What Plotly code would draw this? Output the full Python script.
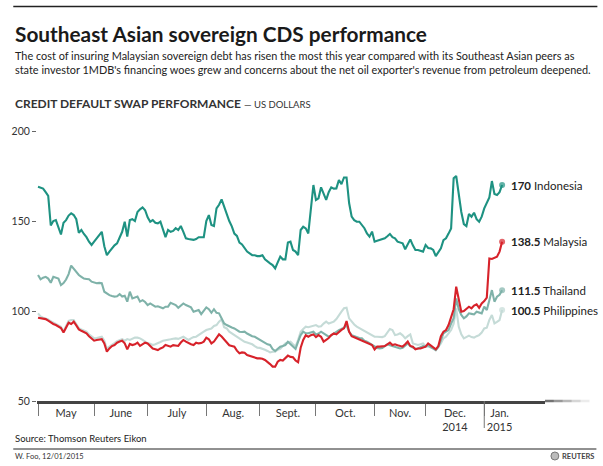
import pandas as pd
import plotly.graph_objects as go

# ---------------- data ----------------
dates = pd.bdate_range("2014-05-01", "2015-01-12")

indonesia = [
    169, 168.5, 168, 166, 164, 147.5, 150, 150.5, 147, 142.5,
    149, 150.5, 153, 154.3, 153.3, 151, 143.5, 145, 142.8, 141,
    138.5, 136.7, 138.5, 140.5, 142.5, 144, 136, 131, 133, 135,
    136.5, 137.6, 141, 144, 149.6, 141.3, 150.5, 151, 150, 155,
    156.5, 157.6, 156, 152, 149.6, 150.5, 149, 148.7, 149.6, 145,
    141, 145, 144, 144.5, 146, 145, 147.2, 144, 140.4, 140,
    139.8, 139.5, 140, 141, 141, 141, 150, 153.3, 147.8, 147.2,
    157, 159, 162, 158, 153, 150, 147, 143, 141.7, 138,
    137, 135, 133, 132, 131, 131, 130.5, 130.5, 131, 128.7,
    127.4, 126.5, 125.5, 123.7, 127, 130.2, 128.7, 128.7, 138, 138.5,
    133.9, 133, 131, 145, 146.8, 145.9, 143.1, 155, 170, 161.7,
    162.6, 168.7, 165, 161.7, 166, 168.7, 168, 168.1, 172.8, 170.5,
    174.2, 174.2, 160, 152.4, 150.5, 149.6, 149.6, 148, 146, 143.1,
    141.3, 144.1, 138.5, 139, 139.4, 140, 140.4, 141.5, 142.8, 141,
    140.4, 138.5, 138, 137.6, 134.3, 137, 139.8, 136.5, 133.9, 133.9,
    133.5, 133, 136.7, 135, 134.8, 133.9, 130.5, 132.5, 134.8, 139.4,
    140.4, 143, 145.9, 173.7, 175, 165, 155, 148.3, 147.2, 153.9,
    152.4, 154.6, 151, 149.6, 152.4, 157, 160, 163.1, 172.2, 165,
    164.4, 166, 170,
]

malaysia = [
    96.3, 96, 95.9, 95.5, 94.6, 93.5, 92.8, 92.2, 91.5, 90.5,
    88, 90.5, 93.5, 92.8, 94.1, 92, 89.8, 89, 88.5, 87.6,
    86, 84.8, 83.5, 83.9, 84.3, 84.3, 82, 77.4, 79.2, 80.5,
    81.1, 82.4, 83, 83.5, 82, 78.7, 81.7, 81.1, 81.5, 82.4,
    80.6, 81.5, 82.4, 82, 80.5, 79.2, 78.8, 78.3, 79.2, 79.8,
    81.1, 80.5, 80.2, 81, 80.6, 80.6, 82.5, 83.9, 83, 82,
    81.5, 81.1, 82.4, 82, 82.2, 83, 85.2, 84.3, 82, 83,
    84.8, 87, 85.8, 84, 82.4, 81, 80.6, 80.2, 78, 76.5,
    77, 76.8, 75.5, 75, 74.3, 74, 73.7, 73.7, 73.5, 72.8,
    71.8, 70.5, 69.1, 69.1, 71.8, 72.8, 72.5, 74.1, 75.2, 74.5,
    74.3, 72.5, 71.5, 79.6, 83.9, 86.5, 85.7, 86.6, 87, 85.5,
    86.6, 85.7, 83, 84, 85, 86.6, 87.6, 87, 88.5, 89.5,
    90.4, 94.4, 88.5, 86, 85.4, 84.8, 84.3, 83.5, 82.9, 82.4,
    82, 81.1, 78.6, 80.2, 80.2, 80.2, 80.5, 81.5, 82.4, 81.1,
    81.5, 81, 80.5, 80.2, 81.5, 83, 80.6, 80.2, 78.7, 79.2,
    79.2, 79.5, 80.2, 82, 81, 80, 78.7, 80.5, 86, 88.5,
    89.4, 92.2, 97, 101, 113.5, 107, 99.6, 100, 101.1, 102.4,
    101.5, 103, 103.7, 101.8, 104.2, 105.5, 107.4, 129.2, 128.9, 129.5,
    130.2, 133, 138.5,
]

thailand = [
    120, 117.6, 118.5, 119, 118, 115.7, 119, 118.5, 118, 114.4,
    115.5, 117.5, 120.5, 125.2, 123.5, 122, 120, 119, 118, 117.8,
    117.6, 116.3, 116, 115.4, 115.6, 115.4, 110.7, 109.5, 108.8, 108.3,
    108, 108.2, 109.4, 108, 108.5, 105.2, 110.7, 107, 107.5, 108,
    105.2, 106, 105, 103.3, 104.2, 103.5, 102.4, 102.6, 102, 101.5,
    102.4, 102.4, 104.6, 103.8, 103.3, 101.8, 103, 104.2, 103.3, 102.5,
    102, 99.6, 100, 100.5, 98.3, 100, 102, 101, 99, 101,
    99, 98.7, 95.9, 93.1, 92.2, 91.3, 90.8, 90.3, 89.4, 88.5,
    88.3, 88.5, 87.5, 86.6, 86, 85.7, 84.8, 83.9, 83, 82,
    81.5, 81.1, 78.9, 77.8, 79, 80.2, 80.6, 81.1, 82.9, 81.5,
    80, 78.9, 83, 86.6, 88.5, 87.6, 87.6, 88, 88.5, 87,
    87.5, 88.5, 87.6, 86.5, 85.7, 86.5, 87.6, 88.5, 89.4, 90,
    90.7, 92.2, 88.5, 86.6, 86, 85.7, 85, 84.8, 83.5, 82.9,
    82, 81, 80.2, 79.5, 79.2, 79.5, 80.5, 81.5, 81, 80.5,
    80, 79.5, 79.2, 79.5, 80.5, 82, 80.5, 79.5, 79, 79.2,
    80, 80.5, 80.2, 81, 80, 79, 78.3, 80, 84, 87.6,
    88.5, 89.4, 93, 96, 107, 101, 97.8, 95.9, 97, 98.7,
    98.4, 98.1, 99.6, 99, 98.7, 102.4, 100.5, 106, 111.6, 105.2,
    107.9, 109, 111.5,
]

philippines = [
    98.7, 97, 96.3, 96, 95.3, 94.3, 93.5, 93, 92.2, 91.3,
    88.8, 91.3, 94.5, 95, 95, 92.8, 90.5, 89.8, 89.3, 88.5,
    87, 85.7, 84.8, 85, 85.5, 85.7, 83.5, 79, 80.3, 81.5,
    82.2, 83.3, 84, 84.3, 83.5, 84.4, 83.9, 84.5, 85.2, 85.2,
    84.8, 83.9, 83, 82, 81.8, 81.1, 81.5, 82, 82.8, 83.5,
    83.9, 83.9, 84.3, 84.6, 84.8, 84.5, 85, 85.7, 84.8, 83.9,
    84.8, 85.5, 85.7, 86.5, 87.6, 88.5, 89.4, 89.8, 90.3, 91.7,
    92.2, 94.1, 95.4, 91, 90.3, 88.5, 87.5, 86.6, 85.5, 84.8,
    84, 82.9, 82.5, 82, 81.5, 80.5, 79.6, 79.5, 79.2, 78.5,
    77.8, 77, 77.4, 77.4, 78.5, 79, 80.5, 82, 82.5, 82.9,
    81.5, 80.2, 84, 88.5, 90, 91.3, 91, 91.3, 91.5, 92.2,
    91.3, 91.5, 93, 94.1, 93, 93.5, 94.1, 95.5, 97.8, 99.6,
    101.5, 101.8, 95.9, 94, 92.5, 91.3, 90.5, 90, 89.2, 88.5,
    87.5, 86.5, 85.7, 85.7, 85.7, 85.5, 86, 88, 90, 89.4,
    86.6, 87, 87.6, 86.5, 84.8, 86, 87, 82, 81.5, 81.1,
    81.5, 82, 80.5, 80.2, 79.8, 79.5, 78.3, 80, 82, 84.8,
    85.7, 87.6, 89.4, 93, 101.5, 91.3, 87, 84.8, 85.5, 86.3,
    85.5, 85.2, 86, 86.6, 88, 90.3, 90.7, 95, 97.8, 93.1,
    94, 95, 100.5,
]

month_labels = ["May", "June", "July", "Aug.", "Sept.", "Oct.", "Nov.",
                "Dec.<br>2014", "Jan.<br>2015"]
y_ticks = [50, 100, 150, 200]

# ---------------- figure ----------------
W, H = 603, 466
L, R, T, B = 31, 545, 131, 401
PW, PH = R - L, B - T


def px(x):
    return (x - L) / PW


def py(y):
    return (B - y) / PH


idx = list(range(len(dates)))
month_start = [i for i in idx if i == 0 or dates[i].month != dates[i - 1].month]
bounds = month_start + [idx[-1] + 5]
mids = [(bounds[k] + bounds[k + 1]) / 2 for k in range(len(month_start))]

series = [
    ("Philippines", philippines, "#c5dbd7"),
    ("Thailand", thailand, "#7fb2a9"),
    ("Indonesia", indonesia, "#1e9282"),
    ("Malaysia", malaysia, "#d7222a"),
]

fig = go.Figure()
for name, vals, col in series:
    sizes = [0] * (len(vals) - 1) + [6]
    fig.add_trace(go.Scatter(
        x=idx, y=vals, mode="lines+markers", name=name,
        line=dict(color=col, width=2.1),
        marker=dict(size=sizes, color=col, line=dict(width=0)),
        hoverinfo="skip", cliponaxis=False,
    ))

annotations = []
for name, vals, col in series:
    annotations.append(dict(
        x=idx[-1], y=vals[-1], xref="x", yref="y",
        text=f"<b>{vals[-1]:g}</b> {name}", showarrow=False,
        xanchor="left", yanchor="middle", xshift=7,
        font=dict(size=11.5, color="#222", family="Lato"),
    ))

# texts
annotations += [
    dict(x=px(7), y=py(33), xref="paper", yref="paper", xanchor="left", yanchor="middle",
         text="<b>Southeast Asian sovereign CDS performance</b>", showarrow=False,
         font=dict(size=20.8, color="#1a1a1a", family="Lato")),
    dict(x=px(7), y=py(62), xref="paper", yref="paper", xanchor="left", yanchor="middle",
         align="left",
         text="The cost of insuring Malaysian sovereign debt has risen the most this year compared with its Southeast Asian peers as<br>"
              "state investor 1MDB's financing woes grew and concerns about the net oil exporter's revenue from petroleum deepened.",
         showarrow=False, font=dict(size=10.9, color="#222", family="Lato")),
    dict(x=px(7), y=py(104), xref="paper", yref="paper", xanchor="left", yanchor="middle",
         text="<b>CREDIT DEFAULT SWAP PERFORMANCE</b> <span style='font-size:9.5px'>— US DOLLARS</span>",
         showarrow=False, font=dict(size=12, color="#333", family="Lato")),
    dict(x=px(7), y=py(438), xref="paper", yref="paper", xanchor="left", yanchor="middle",
         text="Source: Thomson Reuters Eikon", showarrow=False,
         font=dict(size=9.5, color="#222", family="Lato")),
    dict(x=px(7), y=py(456), xref="paper", yref="paper", xanchor="left", yanchor="middle",
         text="W. Foo, 12/01/2015", showarrow=False,
         font=dict(size=7.5, color="#333", family="Lato")),
    dict(x=px(597), y=py(456), xref="paper", yref="paper", xanchor="right", yanchor="middle",
         text="<b>REUTERS</b>", showarrow=False,
         font=dict(size=7.5, color="#444", family="Lato")),
]

shapes = [
    dict(type="line", xref="paper", yref="paper", x0=px(7), x1=px(598), y0=py(6.5), y1=py(6.5),
         line=dict(color="#222", width=1.5)),
    dict(type="line", xref="paper", yref="paper", x0=px(7), x1=px(597), y0=py(449), y1=py(449),
         line=dict(color="#222", width=1)),
    # longer year tick at January
    dict(type="line", xref="x", yref="paper", x0=month_start[-1], x1=month_start[-1],
         y0=0, y1=py(428), line=dict(color="#777", width=1)),
    # reuters logo dot
    dict(type="circle", xref="paper", yref="paper", x0=px(551), x1=px(559), y0=py(452), y1=py(460),
         line=dict(color="#777", width=1), fillcolor="#bbb"),
]
# fading end of axis line
fade = [0.75, 0.55, 0.38, 0.22, 0.1]
for k, op in enumerate(fade):
    shapes.append(dict(type="line", xref="paper", yref="paper",
                       x0=px(R + k * 9), x1=px(R + (k + 1) * 9), y0=0, y1=0,
                       line=dict(color=f"rgba(68,68,68,{op})", width=2.5)))

fig.update_layout(
    width=W, height=H,
    margin=dict(l=L, r=W - R, t=T, b=H - B, pad=0),
    paper_bgcolor="white", plot_bgcolor="white",
    showlegend=False,
    font=dict(family="Lato", color="#333"),
    annotations=annotations, shapes=shapes,
    xaxis=dict(
        range=[-0.4, -0.4 + PW / 2.58], showgrid=False, zeroline=False,
        showline=True, linecolor="#444", linewidth=2.5,
        tickmode="array", tickvals=mids, ticktext=month_labels, ticks="",
        tickfont=dict(size=11, color="#333"),
        minor=dict(tickmode="array", tickvals=month_start, ticks="outside",
                   ticklen=12, tickwidth=1, tickcolor="#777"),
    ),
    yaxis=dict(
        range=[50, 200], showgrid=False, zeroline=False, showline=False,
        tickmode="array", tickvals=y_ticks, ticks="outside", ticklen=4,
        tickwidth=1, tickcolor="#666", tickfont=dict(size=10.5, color="#333"),
    ),
)

fig.write_html("out.html")
